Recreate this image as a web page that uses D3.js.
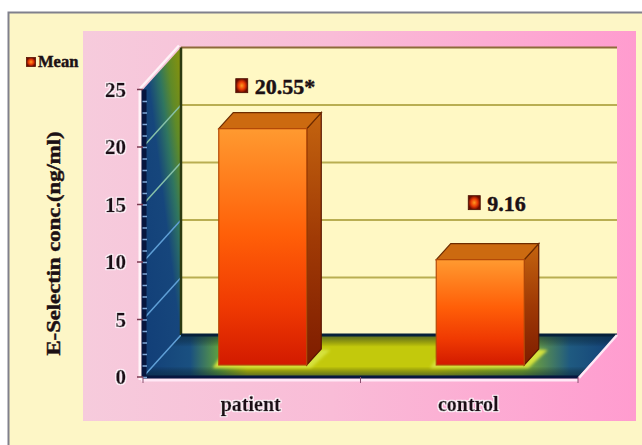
<!DOCTYPE html>
<html>
<head>
<meta charset="utf-8">
<script src="https://cdn.jsdelivr.net/npm/d3@7"></script>
<style>
html,body{margin:0;padding:0;background:#fff;}
svg{display:block;}
text{font-family:"Liberation Serif",serif;font-weight:bold;fill:#1c1014;stroke:#1c1014;stroke-width:0.45;}
</style>
</head>
<body>
<div id="chart"></div>
<script>
// E-Selectin concentration by study group
const categories = ["patient", "control"];
const means = [20.55, 9.16];
const valueLabels = ["20.55*", "9.16"];
const yTickValues = [0, 5, 10, 15, 20, 25];
const minorTickValues = d3.range(0, 25, 1);
const legendLabel = "Mean";
const yAxisTitle = "E-Selectin conc.(ng/ml)";

const width = 642, height = 445;
const depth = {dx: 38, dy: 42};               // oblique offset of the back wall
const barDepth = {dx: 14.5, dy: 16};          // oblique offset of a bar's own depth
const barInset = {dx: 11, dy: 12};            // how far bars stand behind the front edge
const labelShift = [{x: -21, lift: 43}, {x: -6, lift: 57}];

const svg = d3.select("#chart").append("svg")
  .attr("width", width).attr("height", height);
const defs = svg.append("defs");

const linear = (id, coords, stops, units) => {
  const g = defs.append("linearGradient").attr("id", id)
    .attr("x1", coords[0]).attr("y1", coords[1]).attr("x2", coords[2]).attr("y2", coords[3]);
  if (units) g.attr("gradientUnits", units);
  stops.forEach(s => g.append("stop").attr("offset", s[0]).attr("stop-color", s[1]).attr("stop-opacity", s[2] === undefined ? 1 : s[2]));
};
linear("pinkPanel", ["0%", "0%", "100%", "0%"], [[0, "#f6cbdc"], [0.45, "#f9bcd7"], [1, "#ff9ccf"]]);
linear("sideWall", [143, 330, 223, 320], [[0, "#123f78"], [0.45, "#16467c"], [0.6, "#2f7560"], [0.72, "#5f8a28"], [0.85, "#7f9012"]], "userSpaceOnUse");
linear("floorAcross", ["0%", "0%", "100%", "0%"], [[0, "#123f78"], [0.1, "#1a5080"], [0.16, "#5fa040"], [0.22, "#c3c90c"], [0.62, "#c3c90c"], [0.8, "#7fb030"], [0.9, "#1f5a80"], [1, "#123f78"]]);
linear("floorEdges", ["0%", "0%", "0%", "100%"], [[0, "#0a2a3c", 0.6], [0.28, "#000", 0], [0.75, "#000", 0], [1, "#0a2a3c", 0.6]]);
linear("barFront", ["0%", "0%", "0%", "100%"], [[0, "#ff9a30"], [0.45, "#ff5f08"], [0.75, "#f03a02"], [1, "#d21a00"]]);
linear("barSide", ["0%", "0%", "0%", "100%"], [[0, "#c4640f"], [0.5, "#a03a05"], [1, "#7e1c00"]]);
const keyGradient = defs.append("radialGradient").attr("id", "keyFill");
[[0, "#ff9a20"], [0.55, "#e83a05"], [1, "#6a0c00"]].forEach(s =>
  keyGradient.append("stop").attr("offset", s[0]).attr("stop-color", s[1]));
defs.append("filter").attr("id", "glow").attr("x", "-30%").attr("y", "-60%").attr("width", "160%").attr("height", "220%")
  .append("feGaussianBlur").attr("stdDeviation", 1.5);

// Pale outline behind axis text
const haloFilter = defs.append("filter").attr("id", "halo").attr("x", "-20%").attr("y", "-20%").attr("width", "140%").attr("height", "140%");
haloFilter.append("feMorphology").attr("in", "SourceAlpha").attr("operator", "dilate").attr("radius", 1.2).attr("result", "grown");
haloFilter.append("feFlood").attr("flood-color", "#fff3fa").attr("result", "pale");
haloFilter.append("feComposite").attr("in", "pale").attr("in2", "grown").attr("operator", "in").attr("result", "outline");
const haloMerge = haloFilter.append("feMerge");
haloMerge.append("feMergeNode").attr("in", "outline");
haloMerge.append("feMergeNode").attr("in", "SourceGraphic");

// Chart frame and plot panel
svg.append("rect").attr("x", 8.5).attr("y", 12.5).attr("width", 640).attr("height", 440)
  .attr("fill", "#fdf6c6").attr("stroke", "#80808c").attr("stroke-width", 2);
svg.append("rect").attr("x", 83).attr("y", 31).attr("width", 553).attr("height", 390).attr("fill", "url(#pinkPanel)");

const x = d3.scaleBand().domain(categories).range([143, 578]);
const y = d3.scaleLinear().domain([0, 25]).range([377, 89.5]);
const barWidth = 88;
const pts = a => a.map(p => p.join(",")).join(" ");

// Back wall
const wallLeft = 143 + depth.dx, wallRight = 578 + depth.dx + 1;
svg.append("rect").attr("x", wallLeft).attr("y", y(25) - depth.dy)
  .attr("width", wallRight - wallLeft).attr("height", y(0) - y(25))
  .attr("fill", "#fff8c4");
svg.append("line").attr("x1", wallLeft).attr("x2", wallRight)
  .attr("y1", y(25) - depth.dy).attr("y2", y(25) - depth.dy)
  .attr("stroke", "#8e6a3a").attr("stroke-width", 2);

// Side wall
svg.append("polygon").attr("fill", "url(#sideWall)")
  .attr("points", pts([[143, y(25)], [wallLeft, y(25) - depth.dy], [wallLeft, y(0) - depth.dy], [143, y(0)]]));
svg.append("line").attr("x1", 140).attr("y1", y(25) - 1).attr("x2", wallLeft - 2).attr("y2", y(25) - depth.dy - 2)
  .attr("stroke", "#fff3f8").attr("stroke-width", 2.5);

// Floor
const floorPts = pts([[143, y(0)], [wallLeft, y(0) - depth.dy], [wallRight, y(0) - depth.dy], [578, y(0)]]);
svg.append("polygon").attr("fill", "url(#floorAcross)").attr("points", floorPts);
svg.append("polygon").attr("fill", "url(#floorEdges)").attr("points", floorPts);

// Gridlines on the back wall and running across the side wall
svg.append("g").selectAll("line").data(yTickValues.slice(1, -1))
  .join("line")
  .attr("x1", wallLeft).attr("x2", wallRight)
  .attr("y1", d => y(d) - depth.dy).attr("y2", d => y(d) - depth.dy)
  .attr("stroke", "#b9ae52").attr("stroke-width", 2);
svg.append("g").selectAll("line").data(yTickValues.slice(0, -1))
  .join("line")
  .attr("x1", 143).attr("y1", d => y(d))
  .attr("x2", wallLeft).attr("y2", d => y(d) - depth.dy)
  .attr("stroke", d => d >= 15 ? "#86c0a8" : "#5f9fd6").attr("stroke-width", 1.5);
svg.append("line").attr("x1", wallLeft).attr("x2", wallLeft)
  .attr("y1", y(25) - depth.dy).attr("y2", y(0) - depth.dy)
  .attr("stroke", "#2c3a10").attr("stroke-width", 2.5);
svg.append("line").attr("x1", wallLeft).attr("x2", wallRight)
  .attr("y1", y(0) - depth.dy).attr("y2", y(0) - depth.dy)
  .attr("stroke", "#06203a").attr("stroke-width", 3);

// Axis lines with a pale highlight
svg.append("line").attr("x1", 141).attr("x2", 578).attr("y1", y(0) + 3).attr("y2", y(0) + 3)
  .attr("stroke", "#ffe8f6").attr("stroke-width", 3);
svg.append("line").attr("x1", 140).attr("x2", 140).attr("y1", y(25)).attr("y2", y(0) + 3)
  .attr("stroke", "#fff3f8").attr("stroke-width", 3);
svg.append("line").attr("x1", 143).attr("x2", 578).attr("y1", y(0)).attr("y2", y(0))
  .attr("stroke", "#07163f").attr("stroke-width", 3);
svg.append("line").attr("x1", 579).attr("x2", wallRight).attr("y1", y(0) + 1).attr("y2", y(0) - depth.dy)
  .attr("stroke", "#ffe8f6").attr("stroke-width", 2.5);
svg.append("line").attr("x1", 144).attr("x2", 144).attr("y1", y(25)).attr("y2", y(0))
  .attr("stroke", "#07163f").attr("stroke-width", 5);
svg.append("g").selectAll("line").data(minorTickValues).join("line")
  .attr("x1", 142.5).attr("x2", 147)
  .attr("y1", d => y(d) + 0.5).attr("y2", d => y(d) + 0.5)
  .attr("stroke", "#7fa8d8").attr("stroke-width", 1.5);

// Bars
const bars = svg.append("g").selectAll("g").data(categories).join("g");
bars.each(function (c, i) {
  const g = d3.select(this);
  const left = x(c) + x.bandwidth() / 2 - barWidth / 2 + barInset.dx;
  const right = left + barWidth;
  const base = y(0) - barInset.dy;
  const top = y(means[i]) - barInset.dy;
  // bright rim where the bar meets the floor
  g.append("polygon").attr("fill", "#d6e23c").attr("filter", "url(#glow)")
    .attr("points", pts([[left - 6, base + 3], [right + 4, base + 3], [right + barDepth.dx + 9, base - barDepth.dy + 1], [right + barDepth.dx - 4, base - barDepth.dy], [left, base - 6]]));
  g.append("polygon").attr("fill", "url(#barSide)").attr("stroke", "#5a1600").attr("stroke-width", 1.2)
    .attr("points", pts([[right, top], [right + barDepth.dx, top - barDepth.dy], [right + barDepth.dx, base - barDepth.dy], [right, base]]));
  g.append("polygon").attr("fill", "#cc6a10").attr("stroke", "#6e2c00").attr("stroke-width", 1.2)
    .attr("points", pts([[left, top], [left + barDepth.dx, top - barDepth.dy], [right + barDepth.dx, top - barDepth.dy], [right, top]]));
  g.append("rect").attr("x", left).attr("y", top).attr("width", barWidth).attr("height", base - top)
    .attr("fill", "url(#barFront)").attr("stroke", "#b54a08").attr("stroke-width", 1.2);

  // Value label with its series key
  const lx = left + barWidth / 2 + labelShift[i].x;
  const ly = top - labelShift[i].lift;
  g.append("rect").attr("x", lx - 6).attr("y", ly - 7).attr("width", 12).attr("height", 14)
    .attr("fill", "url(#keyFill)").attr("stroke", "#4a1000").attr("stroke-width", 0.8);
  g.append("text").attr("x", lx + 13).attr("y", ly + 8)
    .attr("font-size", 22).text(valueLabels[i]);
});

// Axis text
svg.append("g").selectAll("text").data(yTickValues).join("text")
  .attr("x", 126).attr("y", d => y(d) + 7).attr("text-anchor", "end")
  .attr("font-size", 21).attr("filter", "url(#halo)").text(d => d);
svg.append("g").selectAll("line").data(yTickValues).join("line")
  .attr("x1", 137).attr("x2", 143).attr("y1", d => y(d)).attr("y2", d => y(d))
  .attr("stroke", "#7a3a50").attr("stroke-width", 1.5);
svg.append("g").selectAll("text").data(categories).join("text")
  .attr("x", d => x(d) + x.bandwidth() / 2 - 1).attr("y", 411).attr("text-anchor", "middle")
  .attr("font-size", 20).attr("filter", "url(#halo)").text(d => d);
svg.append("g").selectAll("line").data([143, 360.5, 578]).join("line")
  .attr("x1", d => d).attr("x2", d => d).attr("y1", y(0)).attr("y2", y(0) + 6)
  .attr("stroke", "#8a5070").attr("stroke-width", 1);
svg.append("text").attr("transform", "translate(60,243.5) rotate(-90)")
  .attr("text-anchor", "middle").attr("font-size", 19)
  .attr("textLength", 224).attr("lengthAdjust", "spacingAndGlyphs").text(yAxisTitle);

// Legend
svg.append("rect").attr("x", 26.5).attr("y", 57.5).attr("width", 9).attr("height", 9)
  .attr("fill", "url(#keyFill)").attr("stroke", "#5a1000").attr("stroke-width", 0.8);
svg.append("text").attr("x", 38).attr("y", 67).attr("font-size", 16.5).text(legendLabel);
</script>
</body>
</html>
